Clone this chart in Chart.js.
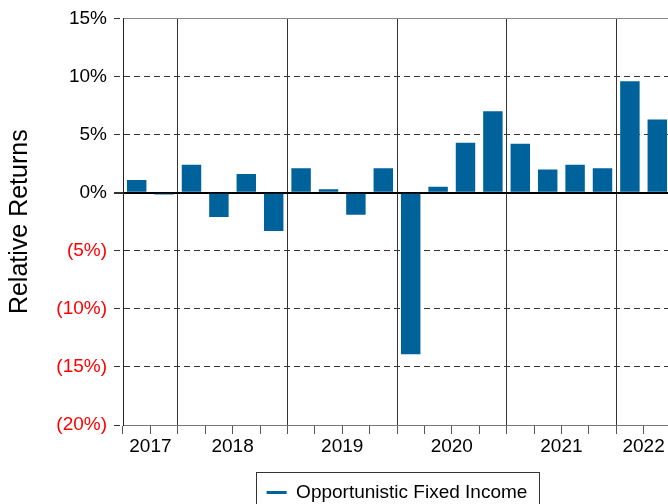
<!DOCTYPE html>
<html>
<head>
<meta charset="utf-8">
<script src="https://cdn.jsdelivr.net/npm/chart.js@4.4.0/dist/chart.umd.min.js"></script>
<style>
	html, body { margin: 0; padding: 0; background: #fff; overflow: hidden; }
	#wrap { width: 668px; height: 504px; overflow: hidden; }
</style>
</head>
<body>
<div id="wrap"><canvas id="chart" width="671" height="512"></canvas></div>
<script>
// quarters, 3Q17 .. 2Q22
var quarters = ['3Q17', '4Q17', '1Q18', '2Q18', '3Q18', '4Q18', '1Q19', '2Q19', '3Q19', '4Q19',
	'1Q20', '2Q20', '3Q20', '4Q20', '1Q21', '2Q21', '3Q21', '4Q21', '1Q22', '2Q22'];
var relReturns = [1.1, -0.15, 2.4, -2.1, 1.6, -3.3, 2.1, 0.3, -1.9, 2.1,
	-13.9, 0.5, 4.3, 7.0, 4.2, 2.0, 2.4, 2.1, 9.6, 6.3];
var seriesName = 'Opportunistic Fixed Income';
// year label shown at the quarter index where each year group is centred
var yearLabels = { 0: '2017', 3: '2018', 7: '2019', 11: '2020', 15: '2021', 18: '2022' };
// grid line index (left edge of a quarter) where a new year starts
var yearStarts = [2, 6, 10, 14, 18];
var yTicks = [-20, -15, -10, -5, 0, 5, 10, 15];

var blue = '#00629b';
var fontFam = "'Liberation Sans', Arial, sans-serif";

// box round the legend
var legendBox = {
	id: 'legendBox',
	afterDraw: function (chart) {
		var hb = chart.legend.legendHitBoxes[0];
		if (!hb) return;
		var ctx = chart.ctx;
		var cy = hb.top + hb.height / 2;
		ctx.save();
		ctx.strokeStyle = '#333';
		ctx.lineWidth = 1;
		ctx.strokeRect(Math.round(hb.left - 11) + 0.5, Math.round(cy - 21) + 0.5,
			Math.round(hb.width + 22), 42);
		ctx.restore();
	}
};

var ctx = document.getElementById('chart').getContext('2d');
var chart = new Chart(ctx, {
	type: 'bar',
	data: {
		labels: quarters,
		datasets: [{
			label: seriesName,
			data: relReturns,
			backgroundColor: blue,
			borderWidth: 0,
			categoryPercentage: 1,
			barPercentage: 0.71
		}]
	},
	options: {
		responsive: false,
		animation: false,
		devicePixelRatio: 1,
		layout: { padding: { top: 17, right: 0, bottom: 0, left: 0 } },
		plugins: {
			tooltip: { enabled: false },
			legend: {
				position: 'bottom',
				fullSize: false,
				labels: {
					usePointStyle: true,
					pointStyleWidth: 20,
					padding: 10,
					color: '#000',
					font: { family: fontFam, size: 19 },
					generateLabels: function (chart) {
						return [{
							text: seriesName,
							fillStyle: blue,
							strokeStyle: blue,
							lineWidth: 3,
							pointStyle: 'line',
							datasetIndex: 0
						}];
					}
				}
			}
		},
		scales: {
			x: {
				afterFit: function (scale) { scale.height = 48; },
				grid: {
					offset: true,
					tickLength: 9,
					lineWidth: 1,
					color: function (c) {
						return yearStarts.indexOf(c.index) >= 0 ? '#333' : 'rgba(0,0,0,0)';
					},
					tickColor: '#555'
				},
				border: { color: '#777', width: 1 },
				ticks: {
					autoSkip: false,
					maxRotation: 0,
					minRotation: 0,
					padding: 1,
					labelOffset: 13.7,
					color: '#000',
					font: { family: fontFam, size: 19 },
					callback: function (val, i) {
						return yearLabels[i] || '';
					}
				}
			},
			y: {
				min: -20,
				max: 15,
				afterFit: function (scale) { scale.width = 123; },
				afterBuildTicks: function (scale) {
					scale.ticks = yTicks.map(function (v) { return { value: v }; });
				},
				title: {
					display: true,
					text: 'Relative Returns',
					color: '#000',
					font: { family: fontFam, size: 25 },
					padding: { top: 5, bottom: 0 }
				},
				grid: {
					tickLength: 9,
					lineWidth: function (c) {
						return c.tick && c.tick.value === 0 ? 2 : 1;
					},
					color: function (c) {
						if (!c.tick) return '#333';
						if (c.tick.value === 0) return '#000';
						if (c.tick.value === 15) return '#888';
						if (c.tick.value === -20) return 'rgba(0,0,0,0)';
						return '#333';
					},
					tickColor: '#333',
					tickBorderDash: function (c) {
						return c.tick && c.tick.value === 0 ? [] : [6, 4];
					}
				},
				border: {
					color: '#222',
					width: 1,
					dash: function (c) {
						if (!c.tick) return [];
						var v = c.tick.value;
						return (v === 0 || v === 15 || v === -20) ? [] : [6, 4];
					}
				},
				ticks: {
					padding: 7,
					font: { family: fontFam, size: 19 },
					color: function (c) {
						return c.tick && c.tick.value < 0 ? '#ff0000' : '#000';
					},
					callback: function (v) {
						return v < 0 ? '(' + (-v) + '%)' : v + '%';
					}
				}
			}
		}
	},
	plugins: [legendBox]
});
</script>
</body>
</html>
